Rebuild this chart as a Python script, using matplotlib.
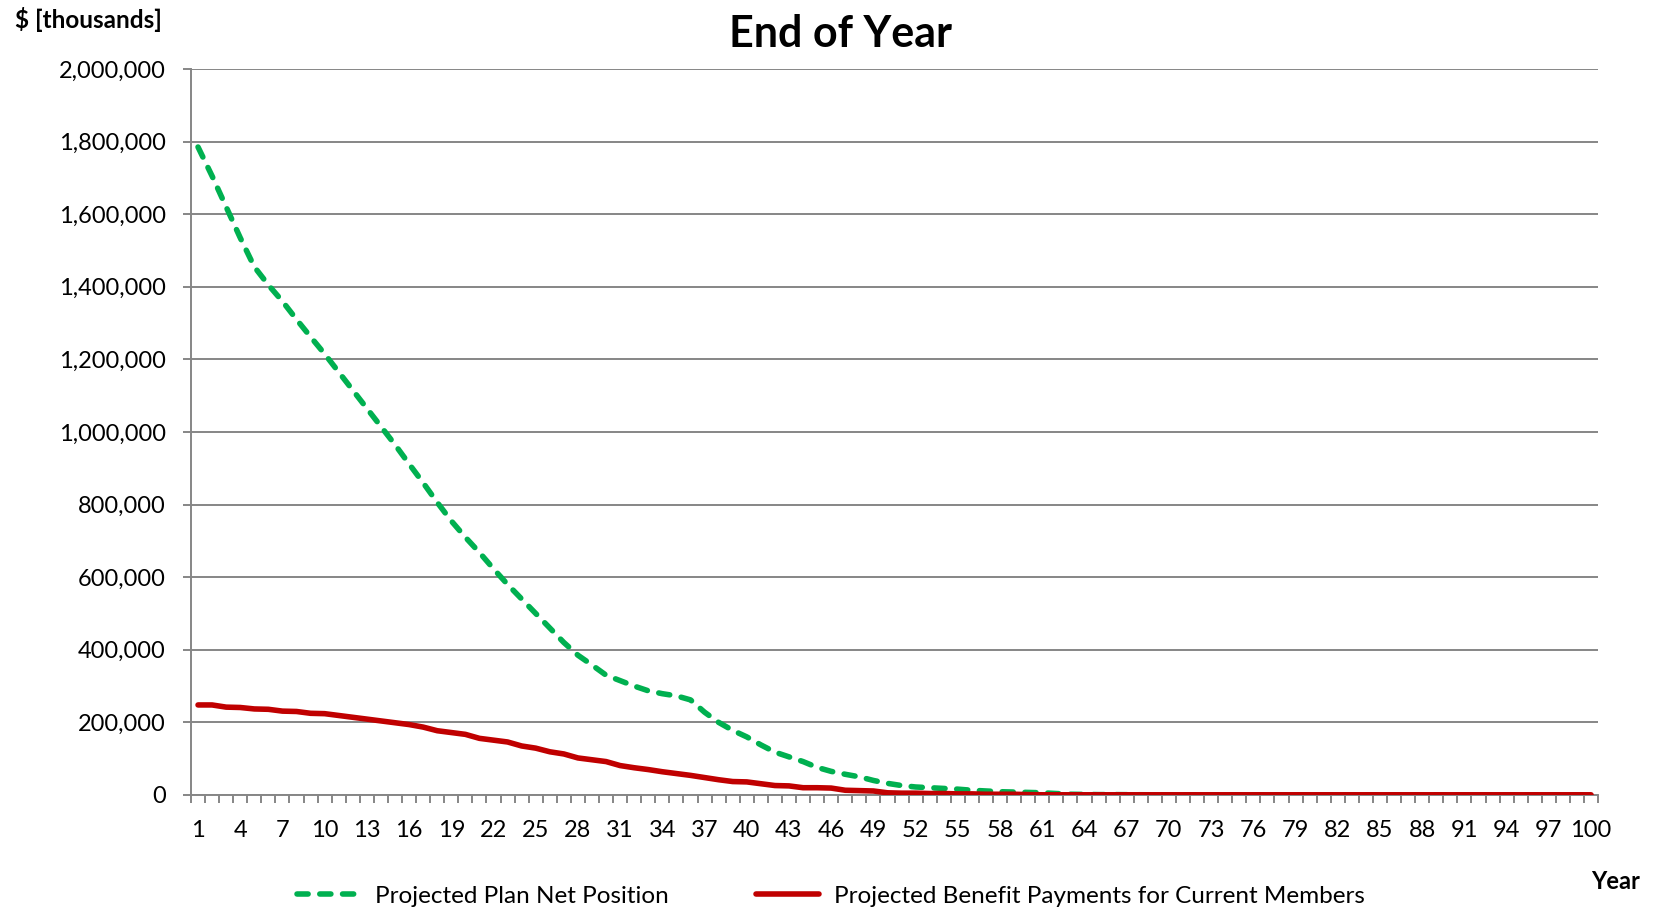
import numpy as np
import matplotlib
matplotlib.use("Agg")
import matplotlib.pyplot as plt
from matplotlib.ticker import FuncFormatter, FixedLocator
from matplotlib.lines import Line2D

plt.rcParams['font.family'] = ['Lato', 'DejaVu Sans']

# data ($ thousands)
years = list(range(1, 101))

net_position = [
    1785000, 1705000, 1620000, 1535000, 1455000, 1405000, 1360000, 1310000, 1262000, 1215000,
    1165000, 1115000, 1065000, 1015000, 965000, 912000, 860000, 806000, 755000, 710000,
    668000, 623000, 580000, 540000, 500000, 460000, 420000, 385000, 358000, 330000,
    315000, 300000, 287000, 279000, 273000, 262000, 228000, 200000, 178000, 160000,
    138000, 118000, 105000, 92000, 76000, 65000, 57000, 50000, 40000, 32000,
    26000, 22000, 20000, 18000, 16000, 13000, 11000, 9000, 8000, 7000,
    6000, 4000, 2000, 1500, 1000, 1000, 800, 600, 500, 400,
] + [300] * 30

benefit_payments = [
    248000, 248000, 242000, 241000, 237000, 236000, 231000, 230000, 225000, 224000,
    219000, 214000, 209000, 204000, 199000, 194000, 187000, 177000, 172000, 167000,
    156000, 151000, 146000, 135000, 129000, 119000, 113000, 102000, 97000, 92000,
    81000, 75000, 70000, 64000, 59000, 54000, 48000, 42000, 37000, 36000,
    31000, 26000, 25000, 20000, 20000, 19000, 13000, 12000, 11000, 6000,
    5000, 5000, 4000, 4000, 3000, 3000, 2000, 2000, 2000, 1000,
] + [500] * 40

tick_years = list(range(1, 101, 3))
y_ticks = list(range(0, 2000001, 200000))

green = '#00B050'
red = '#C00000'
grey = '#868686'

fig = plt.figure(figsize=(16.55, 9.10), dpi=100)
ax = fig.add_axes([0.1154, 0.1264, 0.8502, 0.7978])

ax.plot(years, net_position, color=green, lw=4.0, dashes=(2.0, 2.1),
        dash_capstyle='round', solid_capstyle='round', zorder=3)
ax.plot(years, benefit_payments, color=red, lw=4.0,
        solid_capstyle='round', solid_joinstyle='round', zorder=4)

ax.set_xlim(0.5, 100.5)
ax.set_ylim(0, 2000000)
ax.set_yticks(y_ticks)
ax.yaxis.set_major_formatter(FuncFormatter(lambda v, p: f"{int(v):,}"))
ax.set_xticks(tick_years)
ax.set_xticklabels([str(t) for t in tick_years])
ax.xaxis.set_minor_locator(FixedLocator(np.arange(0.5, 101, 1)))

ax.grid(axis='y', color=grey, lw=1.4)
ax.set_axisbelow(True)
for s in ['top', 'right']:
    ax.spines[s].set_visible(False)
for s in ['left', 'bottom']:
    ax.spines[s].set_color(grey)
    ax.spines[s].set_linewidth(1.4)

ax.tick_params(axis='y', direction='out', length=6, width=1.4, color=grey,
               labelsize=17, pad=12, labelcolor='black')
ax.tick_params(axis='x', which='major', length=0, labelsize=17, pad=18, labelcolor='black')
ax.tick_params(axis='x', which='minor', direction='out', length=6, width=1.4, color=grey)

fig.text(0.508, 0.963, 'End of Year', ha='center', va='center',
         fontsize=31, fontweight='bold')
fig.text(0.009, 0.979, '$ [thousands]', ha='left', va='center',
         fontsize=17.5, fontweight='bold')
fig.text(0.976, 0.031, 'Year', ha='center', va='center',
         fontsize=17, fontweight='bold')

handles = [
    Line2D([], [], color=green, lw=4.0, dashes=(2.0, 2.1), dash_capstyle='round'),
    Line2D([], [], color=red, lw=4.0, solid_capstyle='round'),
]
fig.legend(handles, ['Projected Plan Net Position',
                     'Projected Benefit Payments for Current Members'],
           loc='center', bbox_to_anchor=(0.502, 0.015), ncol=2, frameon=False,
           fontsize=17.5, handlelength=2.6, columnspacing=3.6, handletextpad=0.6)

fig.savefig('out.png', dpi=100)
